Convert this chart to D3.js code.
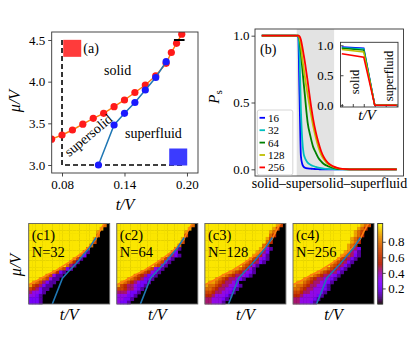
<!DOCTYPE html>
<html>
<head>
<meta charset="utf-8">
<script src="https://cdnjs.cloudflare.com/ajax/libs/d3/7.8.5/d3.min.js"></script>
<style>
body { margin: 0; background: #fff; }
svg text { font-family: "Liberation Serif", serif; fill: #000; }
</style>
</head>
<body>
<div id="graphCanvas"></div>
<script>
// ---- (a) phase diagram
var redT  = [0.07, 0.08, 0.09, 0.10, 0.11, 0.12, 0.13, 0.14, 0.15, 0.16, 0.17, 0.18, 0.185, 0.19, 0.195];
var redMu = [3.31, 3.36, 3.42, 3.49, 3.56, 3.62, 3.70, 3.78, 3.87, 3.96, 4.07, 4.22, 4.35, 4.46, 4.57];
var blueT  = [0.115, 0.13, 0.14, 0.15, 0.16, 0.17, 0.18];
var blueMu = [3.00, 3.48, 3.62, 3.75, 3.90, 4.05, 4.24];
var aTicksX = [0.08, 0.14, 0.20];
var aTicksY = [3.0, 3.5, 4.0, 4.5];
var squareT = [0.0898, 0.1916];
var squareMu = [4.40, 3.096];
var dashT = [0.08, 0.08, 0.198];
var dashMu = [4.5, 3.0, 3.0];
var barT = [0.1875, 0.1977];
var barMu = [4.5, 4.5];

// ---- (b) order parameter
var bX = [0, 25, 27, 28, 29, 30, 31, 32, 33, 34, 36, 38, 40, 42, 44, 46, 48, 50, 53, 56, 60, 65, 70, 100];
var p16  = [1, 1, 0.99, 0.55, 0.10, 0.04, 0.02, 0.012, 0.009, 0.007, 0.005, 0.003, 0.002, 0.001, 0, 0, 0, 0, 0, 0, 0, 0, 0, 0];
var p32  = [1, 1, 1, 0.85, 0.45, 0.22, 0.12, 0.085, 0.065, 0.05, 0.035, 0.025, 0.018, 0.012, 0.008, 0.005, 0.003, 0.002, 0.001, 0, 0, 0, 0, 0];
var p64  = [1, 1, 1, 0.97, 0.87, 0.76, 0.65, 0.55, 0.44, 0.35, 0.25, 0.17, 0.125, 0.085, 0.06, 0.04, 0.028, 0.019, 0.01, 0.004, 0.001, 0, 0, 0];
var p128 = [1, 1, 1, 0.98, 0.92, 0.83, 0.76, 0.69, 0.62, 0.56, 0.44, 0.33, 0.24, 0.165, 0.11, 0.075, 0.05, 0.034, 0.018, 0.008, 0.002, 0, 0, 0];
var p256 = [1, 1, 1, 0.995, 0.97, 0.92, 0.86, 0.80, 0.73, 0.66, 0.51, 0.38, 0.28, 0.20, 0.135, 0.09, 0.06, 0.04, 0.022, 0.01, 0.003, 0, 0, 0];
var sizes = ["16", "32", "64", "128", "256"];
var sizeColors = ["#0000ff", "#00bfbf", "#008000", "#bfbf00", "#ff0000"];
var bTicksY = [0.0, 0.5, 1.0];
var bandX = [25.9, 53.6];

// inset
var insX = [0, 2, 3, 5];
var ins16  = [0.97, 0.95, 0, 0];
var ins32  = [0.96, 0.94, 0, 0];
var ins64  = [0.95, 0.92, 0, 0];
var ins128 = [0.93, 0.89, 0, 0];
var ins256 = [0.86, 0.80, 0, 0];
var insTicksX = [0, 1, 2, 3, 4, 5];
var insTicksY = [0.0, 0.5, 1.0];

// ---- (c) maps, rows from top (mu=4.5) to bottom (mu=3.0), 24 columns t=0.08..0.20, trailing zeros left out
var gridC1 = [
  "99999999999999999999997",
  "9999999999999999999998",
  "999999999999999999998",
  "999999999999999999997",
  "99999999999999999998",
  "99999999999999999996",
  "9999999999999999997",
  "999999999999999997",
  "999999999999999971",
  "99999999999999972",
  "9999999999999861",
  "999999999999751",
  "99999999999741",
  "9999999997621",
  "99999997521",
  "9999976311",
  "999876311",
  "98764211",
  "8654211",
  "654211",
  "43321",
  "3321",
  "2221",
  "2221"
];
var gridC2 = [
  "99999999999999999999997",
  "9999999999999999999998",
  "999999999999999999998",
  "999999999999999999996",
  "99999999999999999998",
  "99999999999999999996",
  "9999999999999999997",
  "9999999999999999971",
  "999999999999999972",
  "9999999999999997421",
  "99999999999998631",
  "9999999999997631",
  "999999999997631",
  "99999999976321",
  "9999999765321",
  "999997654221",
  "99987654221",
  "9876543221",
  "865443221",
  "66544321",
  "4443221",
  "333221",
  "33221",
  "3221"
];
var gridC3 = [
  "99999999999999999999986",
  "9999999999999999999986",
  "999999999999999999987",
  "999999999999999999975",
  "99999999999999999986",
  "99999999999999999975",
  "9999999999999999975",
  "99999999999999998631",
  "9999999999999998742",
  "9999999999999987531",
  "9999999999999865321",
  "999999999999765421",
  "9999999999976531",
  "999999999876531",
  "999999987654321",
  "99999876544321",
  "999876544321",
  "9887654432",
  "87765443321",
  "7765443321",
  "665443321",
  "55433321",
  "4433321",
  "443331"
];
var gridC4 = [
  "99999999999999999999876",
  "9999999999999999999875",
  "999999999999999999876",
  "999999999999999999875",
  "99999999999999999876",
  "99999999999999999875",
  "9999999999999999875",
  "99999999999999998642",
  "99999999999999987431",
  "99999999999999876421",
  "9999999999999865421",
  "999999999999765421",
  "99999999999765421",
  "9999999998765421",
  "999999987654421",
  "99999876544321",
  "9998765443321",
  "988765443321",
  "87765443321",
  "77654433321",
  "6654433321",
  "554333321",
  "44333321",
  "4433321"
];
var heatN = ["32", "64", "128", "256"];
var heatTags = ["(c1)", "(c2)", "(c3)", "(c4)"];
var heatGrids = [gridC1, gridC2, gridC3, gridC4];
var cbTicks = [0.2, 0.4, 0.6, 0.8];

var svg = d3.select("#graphCanvas").append("svg")
  .attr("width", 415).attr("height", 337)
  .style("background", "#fff");

var serif = "Liberation Serif, serif";
function tidy(g, fs) {
  g.attr("font-family", serif).attr("font-size", fs);
  g.select(".domain").remove();
  g.selectAll(".tick line").attr("stroke", "#333").attr("stroke-width", 0.9);
  g.selectAll(".tick text").attr("fill", "#000");
}
function box(g, x, y, w, h) {
  g.append("rect").attr("x", x).attr("y", y).attr("width", w).attr("height", h)
    .attr("fill", "none").attr("stroke", "#333").attr("stroke-width", 0.9);
}
function zip(a, b) { return a.map(function(v, i) { return [v, b[i]]; }); }

// ================= (a)
var xa = d3.scaleLinear().domain([0.0701, 0.2106]).range([51.7, 198]);
var ya = d3.scaleLinear().domain([2.904, 4.596]).range([173, 32]);
var ga = svg.append("g");
svg.append("clipPath").attr("id", "clipA").append("rect")
  .attr("x", 51.7).attr("y", 32).attr("width", 146.3).attr("height", 141);

ga.append("g").attr("transform", "translate(0,173)")
  .call(d3.axisBottom(xa).tickValues(aTicksX).tickFormat(d3.format(".2f")).tickSize(3.5).tickPadding(3))
  .call(tidy, 13);
ga.append("g").attr("transform", "translate(51.7,0)")
  .call(d3.axisLeft(ya).tickValues(aTicksY).tickFormat(d3.format(".1f")).tickSize(3.5).tickPadding(3))
  .call(tidy, 13);

var pa = ga.append("g").attr("clip-path", "url(#clipA)");
var la = d3.line().x(function(d) { return xa(d[0]); }).y(function(d) { return ya(d[1]); });

pa.append("path").attr("d", la(zip(dashT, dashMu)))
  .attr("fill", "none").attr("stroke", "#000").attr("stroke-width", 1.6).attr("stroke-dasharray", "5,3");

pa.selectAll(".sq").data(zip(squareT, squareMu)).enter().append("rect")
  .attr("x", function(d) { return xa(d[0]) - 9; })
  .attr("y", function(d) { return ya(d[1]) - 8.5; })
  .attr("width", 18).attr("height", 17)
  .attr("fill", function(d, i) { return i == 0 ? "#ff3b3b" : "#3b3bff"; });

pa.append("path").attr("d", la(zip(redT, redMu)))
  .attr("fill", "none").attr("stroke", "#ff7f0e").attr("stroke-width", 1.5);
pa.selectAll(".rd").data(zip(redT, redMu)).enter().append("circle")
  .attr("cx", function(d) { return xa(d[0]); }).attr("cy", function(d) { return ya(d[1]); })
  .attr("r", 3.6).attr("fill", "#ff1a1a");
pa.append("path").attr("d", la(zip(blueT, blueMu)))
  .attr("fill", "none").attr("stroke", "#1f77b4").attr("stroke-width", 1.5);
pa.selectAll(".bd").data(zip(blueT, blueMu)).enter().append("circle")
  .attr("cx", function(d) { return xa(d[0]); }).attr("cy", function(d) { return ya(d[1]); })
  .attr("r", 3.6).attr("fill", "#1a1aff");
pa.append("path").attr("d", la(zip(barT, barMu)))
  .attr("fill", "none").attr("stroke", "#000").attr("stroke-width", 1.8);

box(ga, 51.7, 32, 146.3, 141);

ga.append("text").attr("x", 83.3).attr("y", 53).attr("font-size", 14).text("(a)");
ga.append("text").attr("x", 104).attr("y", 75).attr("font-size", 14).text("solid");
ga.append("text").attr("x", 125).attr("y", 138).attr("font-size", 14).text("superfluid");
ga.append("text").attr("transform", "translate(88.5,135.5) rotate(-39.7)")
  .attr("text-anchor", "middle").attr("dominant-baseline", "central").attr("font-size", 14).text("supersolid");
ga.append("text").attr("transform", "translate(14,101) rotate(-90)")
  .attr("text-anchor", "middle").attr("dominant-baseline", "central")
  .attr("font-size", 16).attr("font-style", "italic").text("μ/V");
ga.append("text").attr("x", 125).attr("y", 210).attr("text-anchor", "middle")
  .attr("font-size", 16).attr("font-style", "italic").text("t/V");

// ================= (b)
var xb = d3.scaleLinear().domain([-5, 105]).range([255, 403.5]);
var yb = d3.scaleLinear().domain([-0.05, 1.05]).range([176, 29]);
var gb = svg.append("g");
svg.append("clipPath").attr("id", "clipB").append("rect")
  .attr("x", 255).attr("y", 29).attr("width", 148.5).attr("height", 147);

gb.append("rect").attr("x", xb(bandX[0])).attr("y", 29)
  .attr("width", xb(bandX[1]) - xb(bandX[0])).attr("height", 147).attr("fill", "#e3e3e3");

gb.append("g").attr("transform", "translate(255,0)")
  .call(d3.axisLeft(yb).tickValues(bTicksY).tickFormat(d3.format(".1f")).tickSize(3.5).tickPadding(2))
  .call(tidy, 13);

var pb = gb.append("g").attr("clip-path", "url(#clipB)");
var lb = d3.line().curve(d3.curveMonotoneX)
  .x(function(d) { return xb(d[0]); }).y(function(d) { return yb(d[1]); });
[p16, p32, p64, p128, p256].forEach(function(s, i) {
  pb.append("path").attr("d", lb(zip(bX, s)))
    .attr("fill", "none").attr("stroke", sizeColors[i]).attr("stroke-width", 1.8);
});
box(gb, 255, 29, 148.5, 147);

gb.append("text").attr("x", 260).attr("y", 54).attr("font-size", 14).text("(b)");
var pl = gb.append("text").attr("transform", "translate(219,97) rotate(-90)")
  .attr("text-anchor", "middle").attr("font-size", 15);
pl.append("tspan").attr("font-style", "italic").text("P");
pl.append("tspan").attr("font-size", 11).attr("dy", 3).text("s");
gb.append("text").attr("x", 329.5).attr("y", 188).attr("text-anchor", "middle")
  .attr("font-size", 14).text("solid–supersolid–superfluid");

// legend
var lg = gb.append("g");
lg.append("rect").attr("x", 257.3).attr("y", 110).attr("width", 35.5).attr("height", 65)
  .attr("rx", 2).attr("fill", "#fff").attr("fill-opacity", 0.85).attr("stroke", "#ccc").attr("stroke-width", 0.8);
sizes.forEach(function(s, i) {
  var yy = 117.8 + i * 12.4;
  lg.append("line").attr("x1", 259.5).attr("x2", 265).attr("y1", yy).attr("y2", yy)
    .attr("stroke", sizeColors[i]).attr("stroke-width", 1.8);
  lg.append("text").attr("x", 268).attr("y", yy).attr("dominant-baseline", "central")
    .attr("font-size", 11).text(s);
});

// inset
var xi = d3.scaleLinear().domain([-0.12, 5.12]).range([340.5, 398]);
var yi = d3.scaleLinear().domain([-0.03, 1.05]).range([107, 42.3]);
var gi = svg.append("g");
gi.append("rect").attr("x", 340.5).attr("y", 42.3).attr("width", 57.5).attr("height", 64.7).attr("fill", "#fff");
gi.append("g").attr("transform", "translate(340.5,0)")
  .call(d3.axisLeft(yi).tickValues(insTicksY).tickFormat(d3.format(".1f")).tickSizeInner(-3).tickSizeOuter(0).tickPadding(7))
  .call(tidy, 13);
gi.append("g").attr("transform", "translate(0,107)")
  .call(d3.axisBottom(xi).tickValues(insTicksX).tickFormat("").tickSizeInner(-3).tickSizeOuter(0))
  .call(tidy, 13);
var li = d3.line().x(function(d) { return xi(d[0]); }).y(function(d) { return yi(d[1]); });
[ins16, ins32, ins64, ins128, ins256].forEach(function(s, i) {
  gi.append("path").attr("d", li(zip(insX, s)))
    .attr("fill", "none").attr("stroke", sizeColors[i]).attr("stroke-width", 1.5);
});
box(gi, 340.5, 42.3, 57.5, 64.7);
gi.append("text").attr("transform", "translate(354.5,82) rotate(-90)")
  .attr("text-anchor", "middle").attr("dominant-baseline", "central").attr("font-size", 12.5).text("solid");
gi.append("text").attr("transform", "translate(388.5,76) rotate(-90)")
  .attr("text-anchor", "middle").attr("dominant-baseline", "central").attr("font-size", 12.5).text("superfluid");
gi.append("text").attr("x", 367).attr("y", 120).attr("text-anchor", "middle")
  .attr("font-size", 15).attr("font-style", "italic").text("t/V");

// ================= (c)
function gnuplot(v) {
  var r = Math.sqrt(v), g = v * v * v, b = Math.max(0, Math.sin(2 * Math.PI * v));
  return d3.rgb(r * 255, g * 255, b * 255).toString();
}
var cmap = d3.scaleSequential(gnuplot).domain([0, 1.035]);
var heatX0 = [28.7, 116.8, 204.9, 293.0];
var heatW = 81, heatTop = 223.5, heatBot = 304;
var heatCols = 24;

heatGrids.forEach(function(grid, k) {
  var gh = svg.append("g");
  var x0 = heatX0[k];
  var bx = d3.scaleBand().domain(d3.range(heatCols)).range([x0, x0 + heatW]);
  var by = d3.scaleBand().domain(d3.range(grid.length)).range([heatTop, heatBot]);
  var xt = d3.scaleLinear().domain([0.08, 0.20]).range([x0, x0 + heatW]);
  var ym = d3.scaleLinear().domain([3.0, 4.5]).range([heatBot, heatTop]);

  gh.append("rect").attr("x", x0).attr("y", heatTop).attr("width", heatW).attr("height", heatBot - heatTop)
    .attr("fill", cmap(0));
  grid.forEach(function(row, i) {
    row.split("").forEach(function(ch, j) {
      gh.append("rect").attr("x", bx(j)).attr("y", by(i))
        .attr("width", bx.bandwidth() + 0.4).attr("height", by.bandwidth() + 0.4)
        .attr("fill", cmap(+ch / 9));
    });
  });

  svg.append("clipPath").attr("id", "clipC" + k).append("rect")
    .attr("x", x0).attr("y", heatTop).attr("width", heatW).attr("height", heatBot - heatTop);
  var lh = d3.line().x(function(d) { return xt(d[0]); }).y(function(d) { return ym(d[1]); });
  var pc = gh.append("g").attr("clip-path", "url(#clipC" + k + ")");
  pc.append("path").attr("d", lh(zip(redT, redMu)))
    .attr("fill", "none").attr("stroke", "#ff7f0e").attr("stroke-width", 1.6);
  pc.append("path").attr("d", lh(zip(blueT, blueMu)))
    .attr("fill", "none").attr("stroke", "#1f77b4").attr("stroke-width", 1.6);

  gh.append("rect").attr("x", x0).attr("y", heatTop).attr("width", heatW).attr("height", heatBot - heatTop)
    .attr("fill", "none").attr("stroke", "#666").attr("stroke-width", 0.9);
  gh.append("text").attr("x", x0 + 3).attr("y", 240).attr("font-size", 14.5).text(heatTags[k]);
  gh.append("text").attr("x", x0 + 3).attr("y", 257).attr("font-size", 14.5).text("N=" + heatN[k]);
  gh.append("text").attr("x", x0 + heatW / 2).attr("y", 320).attr("text-anchor", "middle")
    .attr("font-size", 16).attr("font-style", "italic").text("t/V");
});
svg.append("text").attr("transform", "translate(15,265) rotate(-90)")
  .attr("text-anchor", "middle").attr("dominant-baseline", "central")
  .attr("font-size", 16).attr("font-style", "italic").text("μ/V");

// colorbar
var yc = d3.scaleLinear().domain([0, 1.035]).range([heatBot, heatTop]);
var gc = svg.append("g");
gc.selectAll("rect").data(d3.range(0, 1.035, 0.005)).enter().append("rect")
  .attr("x", 377.7).attr("width", 5)
  .attr("y", function(d) { return yc(d + 0.005); })
  .attr("height", function(d) { return yc(d) - yc(d + 0.005) + 0.3; })
  .attr("fill", function(d) { return cmap(d); });
gc.append("g").attr("transform", "translate(382.7,0)")
  .call(d3.axisRight(yc).tickValues(cbTicks).tickFormat(d3.format(".1f")).tickSize(3).tickPadding(2.5))
  .call(tidy, 13);
box(gc, 377.7, heatTop, 5, heatBot - heatTop);
</script>
</body>
</html>
